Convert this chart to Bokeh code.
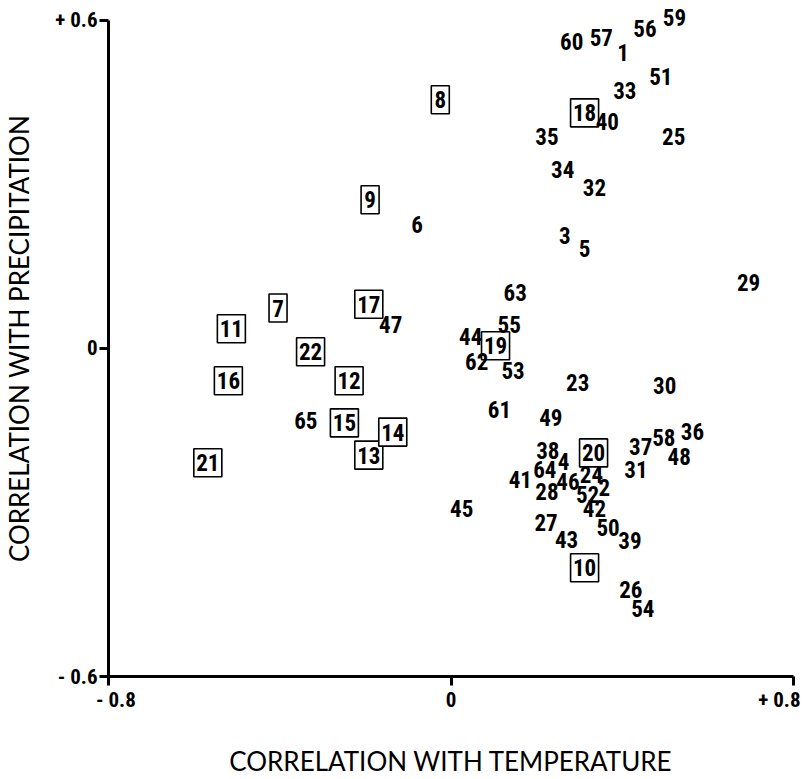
import math
from bokeh.plotting import figure
from bokeh.models import ColumnDataSource, Range1d, FixedTicker, LinearAxis
from bokeh.core.properties import value
from bokeh.embed import file_html
from bokeh.resources import INLINE

# Station numbers, correlation with temperature (x) and with precipitation (y)
labels = [str(i) for i in range(1, 66)]
temp_corr = [0.402, 0.358, 0.266, 0.263, 0.312, -0.079, -0.404, -0.025, -0.189, 0.312,
             -0.513, -0.238, -0.192, -0.136, -0.249, -0.520, -0.192, 0.312, 0.104, 0.333,
             -0.568, -0.328, 0.296, 0.328, 0.520, 0.420, 0.222, 0.224, 0.695, 0.499,
             0.432, 0.335, 0.406, 0.261, 0.224, 0.564, 0.443, 0.226, 0.418, 0.365,
             0.162, 0.335, 0.270, 0.046, 0.025, 0.273, -0.141, 0.533, 0.233, 0.367,
             0.490, 0.319, 0.145, 0.448, 0.136, 0.453, 0.351, 0.497, 0.522, 0.282,
             0.113, 0.060, 0.150, 0.219, -0.339]
prec_corr = [0.542, -0.255, 0.206, -0.206, 0.182, 0.226, 0.074, 0.455, 0.272, -0.401,
             0.036, -0.059, -0.195, -0.153, -0.136, -0.059, 0.081, 0.431, 0.005, -0.191,
             -0.209, -0.006, -0.063, -0.231, 0.387, -0.440, -0.319, -0.261, 0.120, -0.067,
             -0.222, 0.294, 0.471, 0.327, 0.387, -0.151, -0.180, -0.186, -0.352, 0.416,
             -0.239, -0.292, -0.350, 0.021, -0.292, -0.244, 0.043, -0.198, -0.127, -0.328,
             0.498, -0.268, -0.041, -0.476, 0.043, 0.586, 0.568, -0.162, 0.606, 0.562,
             -0.111, -0.023, 0.103, -0.222, -0.131]
boxed_labels = ["7", "8", "9", "10", "11", "12", "13", "14", "15", "16",
                "17", "18", "19", "20", "21", "22"]

x_ticks = [-0.8, 0.0, 0.8]
x_tick_text = ["- 0.8", "0", "+ 0.8"]
# label anchor positions (labels sit inside the end ticks, as in the original)
x_label_pos = [-0.7827, 0.0, 0.7793]
y_ticks = [-0.6, 0.0, 0.6]
y_tick_text = ["- 0.6", "0", "+ 0.6"]

NUM_FONT = "Roboto Condensed, Roboto, sans-serif"
TITLE_FONT = "Lato, Open Sans, sans-serif"

p = figure(width=800, height=779, output_backend="svg", toolbar_location=None,
           x_range=Range1d(-0.8, 0.8), y_range=Range1d(-0.6, 0.6365),
           min_border_left=100, min_border_right=7, min_border_top=0,
           min_border_bottom=102)
p.outline_line_color = None
p.grid.visible = False
p.background_fill_color = "white"
p.border_fill_color = "white"

# boxes
bx = [temp_corr[labels.index(b)] for b in boxed_labels]
by = [prec_corr[labels.index(b)] for b in boxed_labels]
bw = [18 if len(b) == 1 else 28 for b in boxed_labels]
bsrc = ColumnDataSource(dict(x=bx, y=by, w=bw))
p.rect(x="x", y="y", width="w", height=28, width_units="screen", height_units="screen",
       source=bsrc, fill_color="white", line_color="black", line_width=1.6)

src = ColumnDataSource(dict(x=temp_corr, y=prec_corr, t=labels))
p.text(x="x", y="y", text="t", source=src, text_font=value(NUM_FONT),
       text_font_style="bold", text_font_size="23px", text_align="center",
       text_baseline="middle", text_color="black")

# x axis: line and ticks
xa = p.xaxis[0]
xa.ticker = FixedTicker(ticks=x_ticks)
xa.major_label_overrides = {t: "" for t in x_ticks}
xa.major_label_text_font_size = "1px"
xa.major_label_standoff = 0
xa.major_tick_out = 9
xa.major_tick_in = 0
xa.minor_tick_out = 0
xa.minor_tick_in = 0
xa.axis_line_width = 3
xa.axis_line_color = "black"
xa.major_tick_line_width = 3
xa.major_tick_line_color = "black"

# x axis: tick labels and title
xl = LinearAxis(ticker=FixedTicker(ticks=x_label_pos))
xl.major_label_overrides = {t: s for t, s in zip(x_label_pos, x_tick_text)}
xl.major_label_text_font = NUM_FONT
xl.major_label_text_font_style = "bold"
xl.major_label_text_font_size = "21px"
xl.major_label_text_color = "black"
xl.major_label_standoff = 2
xl.axis_line_color = None
xl.major_tick_line_color = None
xl.minor_tick_line_color = None
xl.major_tick_out = 0
xl.major_tick_in = 0
xl.minor_tick_out = 0
xl.minor_tick_in = 0
xl.axis_label = "CORRELATION WITH TEMPERATURE"
xl.axis_label_text_font = TITLE_FONT
xl.axis_label_text_font_style = "normal"
xl.axis_label_text_font_size = "26px"
xl.axis_label_text_color = "black"
xl.axis_label_standoff = 30
p.add_layout(xl, "below")

ya = p.yaxis[0]
ya.ticker = FixedTicker(ticks=y_ticks)
ya.bounds = (-0.6, 0.6)
ya.major_label_overrides = {t: s for t, s in zip(y_ticks, y_tick_text)}
ya.major_label_text_font = NUM_FONT
ya.major_label_text_font_style = "bold"
ya.major_label_text_font_size = "21px"
ya.major_label_text_color = "black"
ya.major_label_standoff = 2
ya.major_tick_out = 9
ya.major_tick_in = 0
ya.minor_tick_out = 0
ya.minor_tick_in = 0
ya.axis_line_width = 3
ya.axis_line_color = "black"
ya.major_tick_line_width = 3
ya.major_tick_line_color = "black"
ya.major_label_orientation = "horizontal"
ya.axis_label = "CORRELATION WITH PRECIPITATION"
ya.axis_label_text_font = TITLE_FONT
ya.axis_label_text_font_style = "normal"
ya.axis_label_text_font_size = "26px"
ya.axis_label_text_color = "black"
ya.axis_label_standoff = 17

open("out.html", "w").write(file_html(p, INLINE))
